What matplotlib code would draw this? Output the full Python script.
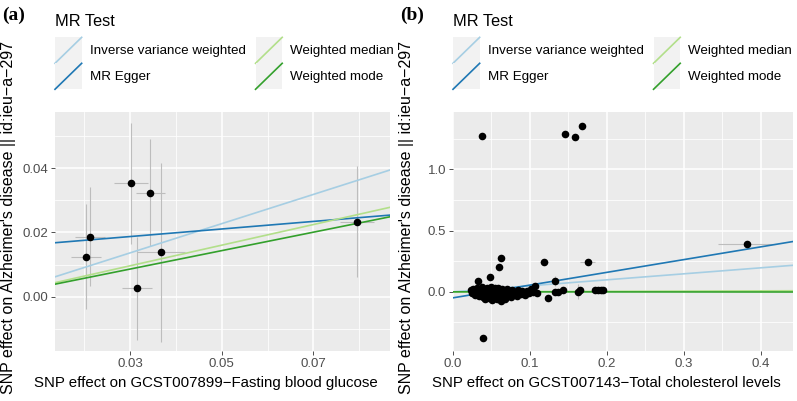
import matplotlib
matplotlib.use("Agg")
import matplotlib.pyplot as plt
from matplotlib.lines import Line2D
from matplotlib.patches import Rectangle
from matplotlib.legend_handler import HandlerBase
from matplotlib.ticker import MultipleLocator, FuncFormatter

plt.rcParams['font.family'] = ['Liberation Sans', 'DejaVu Sans']

# ---- panel (a): fasting blood glucose ----
a_x = [0.0204, 0.0213, 0.0302, 0.0344, 0.0367, 0.0315, 0.0795]
a_y = [0.0125, 0.0187, 0.0353, 0.0324, 0.0138, 0.0026, 0.0234]
a_xse = [0.0033, 0.0033, 0.0038, 0.0032, 0.0053, 0.0033, 0.0038]
a_yse = [0.0164, 0.0155, 0.0188, 0.0166, 0.0278, 0.0160, 0.0174]
# (intercept, slope) for each MR method
a_fits = {"Inverse variance weighted": (0.0, 0.455),
          "MR Egger": (0.0152, 0.1177),
          "Weighted median": (0.0, 0.321),
          "Weighted mode": (0.0, 0.287)}

# ---- panel (b): total cholesterol ----
# outlying / separated SNPs
b_x_out = [0.038, 0.145, 0.159, 0.168, 0.039, 0.382, 0.175, 0.118, 0.062, 0.060,
           0.048, 0.032, 0.133, 0.123,
           0.107, 0.109, 0.133, 0.143, 0.165, 0.189, 0.193, 0.136, 0.163, 0.185, 0.195]
b_y_out = [1.276, 1.289, 1.260, 1.352, -0.374, 0.390, 0.244, 0.240, 0.273, 0.203,
           0.119, 0.086, 0.086, -0.049,
           0.051, -0.011, 0.002, 0.019, 0.019, 0.011, 0.019, 0.000, 0.000, 0.012, 0.015]
b_xse_out = [0.003, 0.003, 0.003, 0.003, 0.003, 0.038, 0.010, 0.005, 0.003, 0.003,
             0.003, 0.003, 0.004, 0.004,
             0.004, 0.003, 0.003, 0.003, 0.004, 0.004, 0.004, 0.003, 0.005, 0.004, 0.004]
b_yse_out = [0.01, 0.01, 0.01, 0.01, 0.01, 0.01, 0.01, 0.01, 0.01, 0.01,
             0.01, 0.01, 0.04, 0.015,
             0.015, 0.01, 0.01, 0.01, 0.02, 0.01, 0.01, 0.01, 0.06, 0.01, 0.01]
# dense cluster near the origin
b_x_clu = [0.024, 0.025, 0.026, 0.027, 0.028, 0.029, 0.030, 0.031, 0.032, 0.033,
           0.034, 0.035, 0.036, 0.037, 0.038, 0.039, 0.040, 0.041, 0.042, 0.043,
           0.044, 0.045, 0.046, 0.047, 0.048, 0.049, 0.050, 0.051, 0.052, 0.053,
           0.054, 0.055, 0.056, 0.057, 0.058, 0.059, 0.060, 0.061, 0.062, 0.063,
           0.064, 0.066, 0.067, 0.068, 0.070, 0.072, 0.074, 0.075, 0.077, 0.079,
           0.081, 0.083, 0.085, 0.088, 0.090, 0.093, 0.096, 0.099, 0.102, 0.104]
b_y_clu = [0.012, -0.010, 0.020, -0.005, 0.005, -0.025, 0.015, 0.035, -0.015, 0.002,
           -0.035, 0.025, 0.010, -0.020, 0.037, -0.045, 0.000, 0.018, -0.060, -0.008,
           0.030, -0.030, 0.008, -0.050, 0.022, -0.015, 0.036, -0.070, 0.004, -0.040,
           0.028, -0.022, 0.012, -0.055, -0.005, 0.032, -0.035, 0.015, -0.073, -0.010,
           0.020, -0.045, 0.005, -0.060, 0.025, -0.025, 0.010, -0.040, 0.018, -0.008,
           0.000, -0.030, 0.012, -0.015, 0.005, -0.028, 0.010, -0.012, 0.020, -0.005]
b_xse_clu = [0.002] * len(b_x_clu)
b_yse_clu = [0.01] * len(b_x_clu)

b_x = b_x_out + b_x_clu
b_y = b_y_out + b_y_clu
b_xse = b_xse_out + b_xse_clu
b_yse = b_yse_out + b_yse_clu
b_fits = {"Inverse variance weighted": (0.0, 0.49),
          "MR Egger": (-0.049, 1.04),
          "Weighted median": (0.0, 0.02),
          "Weighted mode": (0.0, -0.003)}

colors = {"Inverse variance weighted": "#A6CEE3",
          "MR Egger": "#1F78B4",
          "Weighted median": "#B2DF8A",
          "Weighted mode": "#33A02C"}
legend_order = ["Inverse variance weighted", "MR Egger", "Weighted median", "Weighted mode"]


class DiagHandler(HandlerBase):
    def create_artists(self, legend, orig_handle, xdescent, ydescent, width, height, fontsize, trans):
        x0, y0 = -xdescent, -ydescent
        bg = Rectangle((x0, y0), width, height, facecolor="#F2F2F2", edgecolor="none", transform=trans)
        ln = Line2D([x0, x0 + width], [y0, y0 + height], color=orig_handle.get_color(),
                    lw=orig_handle.get_linewidth(), transform=trans)
        return [bg, ln]


fig = plt.figure(figsize=(7.97, 4.01), dpi=100)

W, H = 797.0, 401.0
panels = [
    dict(tag="(a)", left=55, right=390, x=a_x, y=a_y, xse=a_xse, yse=a_yse, fits=a_fits,
         xlim=(0.0136, 0.0867), ylim=(-0.0169, 0.0575), xmin_=0.01, ymaj=0.02, ymin_=0.01,
         xticks=[0.03, 0.05, 0.07], xfmt="{:.2f}", yfmt="{:.2f}",
         xlabel="SNP effect on GCST007899\u2212Fasting blood glucose", xlab_cx=206),
    dict(tag="(b)", left=453, right=793, x=b_x, y=b_y, xse=b_xse, yse=b_yse, fits=b_fits,
         xlim=(0.0, 0.442), ylim=(-0.483, 1.468), xmin_=0.05, ymaj=0.5, ymin_=0.25,
         xticks=[0.0, 0.1, 0.2, 0.3, 0.4], xfmt="{:.1f}", yfmt="{:.1f}",
         xlabel="SNP effect on GCST007143\u2212Total cholesterol levels", xlab_cx=606),
]

top_px, bot_px = 112, 351
for p in panels:
    ax = fig.add_axes([p["left"] / W, 1 - bot_px / H, (p["right"] - p["left"]) / W, (bot_px - top_px) / H])
    ax.set_facecolor("#EBEBEB")
    for s in ax.spines.values():
        s.set_visible(False)

    ax.errorbar(p["x"], p["y"], xerr=p["xse"], yerr=p["yse"], fmt="none",
                ecolor="#BDBDBD", elinewidth=0.8, capsize=0, zorder=2)
    handles = []
    for name in legend_order:
        b0, b1 = p["fits"][name]
        ax.axline((0, b0), slope=b1, color=colors[name], lw=1.2, zorder=3)
        handles.append(Line2D([], [], color=colors[name], lw=1.2, label=name))
    ax.scatter(p["x"], p["y"], s=30, color="black", zorder=4, linewidths=0)

    ax.set_xlim(p["xlim"])
    ax.set_ylim(p["ylim"])
    ax.set_xticks(p["xticks"])
    ax.set_xticklabels([p["xfmt"].format(v) for v in p["xticks"]])
    ax.xaxis.set_minor_locator(MultipleLocator(p["xmin_"]))
    ax.yaxis.set_major_locator(MultipleLocator(p["ymaj"]))
    ax.yaxis.set_minor_locator(MultipleLocator(p["ymin_"]))
    ax.yaxis.set_major_formatter(FuncFormatter(lambda v, pos, f=p["yfmt"]: f.format(0.0 if abs(v) < 1e-12 else v)))
    ax.grid(which="major", color="white", lw=1.1)
    ax.grid(which="minor", color="white", lw=0.55)
    ax.set_axisbelow(True)
    ax.tick_params(which="major", length=3, width=0.6, color="#333333", labelsize=9.5,
                   labelcolor="#4D4D4D", pad=2)
    ax.tick_params(which="minor", length=0)

    leg = ax.legend(handles=handles, ncol=2, title="MR Test", loc="upper left",
                    bbox_to_anchor=(p["left"] / W, 1 - 14 / H), bbox_transform=fig.transFigure,
                    frameon=False, fontsize=9.6, title_fontsize=11.8, borderpad=0,
                    borderaxespad=0, handlelength=2.0, handleheight=2.62, labelspacing=0.0,
                    handletextpad=0.6, columnspacing=0.75, alignment="left",
                    handler_map={Line2D: DiagHandler()})
    leg._legend_box.sep = 6

    fig.text(p["xlab_cx"] / W, 1 - 383 / H, p["xlabel"], ha="center", va="center", fontsize=10.8)
    fig.text((p["left"] - 46) / W, 1 - 217 / H,
             "SNP effect on Alzheimer's disease || id:ieu\u2212a\u2212297",
             rotation=90, ha="center", va="center", fontsize=11.5)
    fig.text((p["left"] - 53) / W, 1 - 15 / H, p["tag"], fontsize=14, fontweight="bold",
             family="Liberation Serif", ha="left", va="center")

fig.savefig("out.png", dpi=100)
